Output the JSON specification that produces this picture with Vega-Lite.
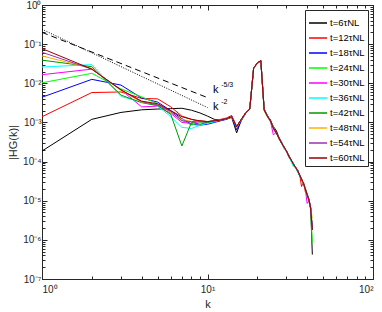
{
"$schema":"https://vega.github.io/schema/vega-lite/v6.json",
"width":331,"height":274,
"autosize":{"type":"none"},
"padding":{"left":42,"top":5,"right":9,"bottom":33},
"config":{"font":"Liberation Sans","view":{"stroke":"#262626","strokeWidth":1},
 "axis":{"grid":false,"domainColor":"#262626","tickColor":"#262626","labelColor":"#262626","titleColor":"#262626","labelFontSize":10,"titleFontSize":11,"titleFontWeight":"normal","labelOverlap":false}},
"resolve":{"axis":{"x":"independent","y":"independent"}},
"layer":[
{"data":{"values":[
{"t":"t=6τNL","k":1,"v":1.86e-4},{"t":"t=6τNL","k":2,"v":1.2e-3},{"t":"t=6τNL","k":3,"v":1.8e-3},{"t":"t=6τNL","k":4,"v":2.1e-3},{"t":"t=6τNL","k":5,"v":2.2e-3},{"t":"t=6τNL","k":6,"v":2.25e-3},{"t":"t=6τNL","k":7,"v":2.3e-3},{"t":"t=6τNL","k":8,"v":2.05e-3},{"t":"t=6τNL","k":9,"v":1.75e-3},{"t":"t=6τNL","k":10,"v":1.45e-3},{"t":"t=6τNL","k":11,"v":1.2e-3},{"t":"t=6τNL","k":12,"v":1.15e-3},{"t":"t=6τNL","k":13,"v":1.2e-3},{"t":"t=6τNL","k":14,"v":1.35e-3},{"t":"t=6τNL","k":15,"v":5.4e-4},{"t":"t=6τNL","k":16,"v":1.15e-3},{"t":"t=6τNL","k":17,"v":1.7e-3},{"t":"t=6τNL","k":18,"v":2.15e-3},{"t":"t=6τNL","k":19,"v":2.4e-2},{"t":"t=6τNL","k":20,"v":3.2e-2},{"t":"t=6τNL","k":21,"v":3.7e-2},{"t":"t=6τNL","k":22,"v":2.2e-3},{"t":"t=6τNL","k":23,"v":1.5e-3},{"t":"t=6τNL","k":24,"v":1.15e-3},{"t":"t=6τNL","k":25,"v":7.8e-4},{"t":"t=6τNL","k":26,"v":6.3e-4},{"t":"t=6τNL","k":27,"v":4.2e-4},{"t":"t=6τNL","k":28,"v":3.2e-4},{"t":"t=6τNL","k":29,"v":2.3e-4},{"t":"t=6τNL","k":30,"v":1.8e-4},{"t":"t=6τNL","k":31,"v":1.45e-4},{"t":"t=6τNL","k":32,"v":1.05e-4},{"t":"t=6τNL","k":33,"v":9.2e-5},{"t":"t=6τNL","k":34,"v":7.0e-5},{"t":"t=6τNL","k":35,"v":5.6e-5},{"t":"t=6τNL","k":36,"v":4.4e-5},{"t":"t=6τNL","k":37,"v":3.7e-5},{"t":"t=6τNL","k":38,"v":2.6e-5},{"t":"t=6τNL","k":39,"v":2.0e-5},{"t":"t=6τNL","k":40,"v":1.5e-5},{"t":"t=6τNL","k":41,"v":1.1e-5},{"t":"t=6τNL","k":42,"v":6.8e-6},{"t":"t=6τNL","k":43,"v":4.2e-7},
{"t":"t=12τNL","k":1,"v":1.4e-3},{"t":"t=12τNL","k":2,"v":5.8e-3},{"t":"t=12τNL","k":3,"v":6.0e-3},{"t":"t=12τNL","k":4,"v":4.1e-3},{"t":"t=12τNL","k":5,"v":4.0e-3},{"t":"t=12τNL","k":6,"v":2.5e-3},{"t":"t=12τNL","k":7,"v":1.45e-3},{"t":"t=12τNL","k":8,"v":1.2e-3},{"t":"t=12τNL","k":9,"v":1.05e-3},{"t":"t=12τNL","k":10,"v":1.0e-3},{"t":"t=12τNL","k":11,"v":1.15e-3},{"t":"t=12τNL","k":12,"v":1.2e-3},{"t":"t=12τNL","k":13,"v":1.3e-3},{"t":"t=12τNL","k":14,"v":1.5e-3},{"t":"t=12τNL","k":15,"v":8.0e-4},{"t":"t=12τNL","k":16,"v":1.2e-3},{"t":"t=12τNL","k":17,"v":1.8e-3},{"t":"t=12τNL","k":18,"v":2.2e-3},{"t":"t=12τNL","k":19,"v":2.45e-2},{"t":"t=12τNL","k":20,"v":3.3e-2},{"t":"t=12τNL","k":21,"v":3.8e-2},{"t":"t=12τNL","k":22,"v":2.0e-3},{"t":"t=12τNL","k":23,"v":1.4e-3},{"t":"t=12τNL","k":24,"v":1.05e-3},{"t":"t=12τNL","k":25,"v":7.0e-4},{"t":"t=12τNL","k":26,"v":5.2e-4},{"t":"t=12τNL","k":27,"v":4.1e-4},{"t":"t=12τNL","k":28,"v":2.9e-4},{"t":"t=12τNL","k":29,"v":2.4e-4},{"t":"t=12τNL","k":30,"v":1.8e-4},{"t":"t=12τNL","k":31,"v":1.35e-4},{"t":"t=12τNL","k":32,"v":1.15e-4},{"t":"t=12τNL","k":33,"v":8.5e-5},{"t":"t=12τNL","k":34,"v":7.4e-5},{"t":"t=12τNL","k":35,"v":5.5e-5},{"t":"t=12τNL","k":36,"v":4.8e-5},{"t":"t=12τNL","k":37,"v":2.3e-5},{"t":"t=12τNL","k":38,"v":3.0e-5},{"t":"t=12τNL","k":39,"v":1.7e-5},{"t":"t=12τNL","k":40,"v":1.5e-5},{"t":"t=12τNL","k":41,"v":1.0e-5},{"t":"t=12τNL","k":42,"v":6.0e-6},{"t":"t=12τNL","k":43,"v":1.8e-6},
{"t":"t=18τNL","k":1,"v":4.4e-3},{"t":"t=18τNL","k":2,"v":1.26e-2},{"t":"t=18τNL","k":3,"v":9.0e-3},{"t":"t=18τNL","k":4,"v":4.2e-3},{"t":"t=18τNL","k":5,"v":3.3e-3},{"t":"t=18τNL","k":6,"v":2.0e-3},{"t":"t=18τNL","k":7,"v":1.25e-3},{"t":"t=18τNL","k":8,"v":9.0e-4},{"t":"t=18τNL","k":9,"v":8.5e-4},{"t":"t=18τNL","k":10,"v":9.0e-4},{"t":"t=18τNL","k":11,"v":1.0e-3},{"t":"t=18τNL","k":12,"v":1.1e-3},{"t":"t=18τNL","k":13,"v":1.2e-3},{"t":"t=18τNL","k":14,"v":1.45e-3},{"t":"t=18τNL","k":15,"v":6.5e-4},{"t":"t=18τNL","k":16,"v":1.1e-3},{"t":"t=18τNL","k":17,"v":1.7e-3},{"t":"t=18τNL","k":18,"v":2.2e-3},{"t":"t=18τNL","k":19,"v":2.45e-2},{"t":"t=18τNL","k":20,"v":3.3e-2},{"t":"t=18τNL","k":21,"v":3.8e-2},{"t":"t=18τNL","k":22,"v":2.1e-3},{"t":"t=18τNL","k":23,"v":1.45e-3},{"t":"t=18τNL","k":24,"v":1.15e-3},{"t":"t=18τNL","k":25,"v":7.2e-4},{"t":"t=18τNL","k":26,"v":5.8e-4},{"t":"t=18τNL","k":27,"v":3.8e-4},{"t":"t=18τNL","k":28,"v":3.0e-4},{"t":"t=18τNL","k":29,"v":2.2e-4},{"t":"t=18τNL","k":30,"v":1.9e-4},{"t":"t=18τNL","k":31,"v":1.3e-4},{"t":"t=18τNL","k":32,"v":1.1e-4},{"t":"t=18τNL","k":33,"v":8.0e-5},{"t":"t=18τNL","k":34,"v":7.0e-5},{"t":"t=18τNL","k":35,"v":6.2e-5},{"t":"t=18τNL","k":36,"v":4.3e-5},{"t":"t=18τNL","k":37,"v":3.6e-5},{"t":"t=18τNL","k":38,"v":2.7e-5},{"t":"t=18τNL","k":39,"v":2.1e-5},{"t":"t=18τNL","k":40,"v":1.35e-5},{"t":"t=18τNL","k":41,"v":1.1e-5},{"t":"t=18τNL","k":42,"v":6.3e-6},{"t":"t=18τNL","k":43,"v":2.0e-6},
{"t":"t=24τNL","k":1,"v":1.03e-2},{"t":"t=24τNL","k":2,"v":1.8e-2},{"t":"t=24τNL","k":3,"v":7.2e-3},{"t":"t=24τNL","k":4,"v":4.5e-3},{"t":"t=24τNL","k":5,"v":3.0e-3},{"t":"t=24τNL","k":6,"v":1.8e-3},{"t":"t=24τNL","k":7,"v":1.15e-3},{"t":"t=24τNL","k":8,"v":8.5e-4},{"t":"t=24τNL","k":9,"v":1.0e-3},{"t":"t=24τNL","k":10,"v":1.05e-3},{"t":"t=24τNL","k":11,"v":1.1e-3},{"t":"t=24τNL","k":12,"v":1.15e-3},{"t":"t=24τNL","k":13,"v":1.25e-3},{"t":"t=24τNL","k":14,"v":1.4e-3},{"t":"t=24τNL","k":15,"v":7.6e-4},{"t":"t=24τNL","k":16,"v":1.2e-3},{"t":"t=24τNL","k":17,"v":1.75e-3},{"t":"t=24τNL","k":18,"v":2.2e-3},{"t":"t=24τNL","k":19,"v":2.45e-2},{"t":"t=24τNL","k":20,"v":3.3e-2},{"t":"t=24τNL","k":21,"v":3.8e-2},{"t":"t=24τNL","k":22,"v":2.05e-3},{"t":"t=24τNL","k":23,"v":1.4e-3},{"t":"t=24τNL","k":24,"v":1.1e-3},{"t":"t=24τNL","k":25,"v":7.4e-4},{"t":"t=24τNL","k":26,"v":5.5e-4},{"t":"t=24τNL","k":27,"v":4.0e-4},{"t":"t=24τNL","k":28,"v":3.1e-4},{"t":"t=24τNL","k":29,"v":2.2e-4},{"t":"t=24τNL","k":30,"v":1.8e-4},{"t":"t=24τNL","k":31,"v":1.4e-4},{"t":"t=24τNL","k":32,"v":1.05e-4},{"t":"t=24τNL","k":33,"v":9.0e-5},{"t":"t=24τNL","k":34,"v":6.8e-5},{"t":"t=24τNL","k":35,"v":6.0e-5},{"t":"t=24τNL","k":36,"v":4.4e-5},{"t":"t=24τNL","k":37,"v":3.4e-5},{"t":"t=24τNL","k":38,"v":2.9e-5},{"t":"t=24τNL","k":39,"v":1.9e-5},{"t":"t=24τNL","k":40,"v":1.45e-5},{"t":"t=24τNL","k":41,"v":1.05e-5},{"t":"t=24τNL","k":42,"v":6.6e-6},{"t":"t=24τNL","k":43,"v":8.5e-7},
{"t":"t=30τNL","k":1,"v":1.66e-2},{"t":"t=30τNL","k":2,"v":2.3e-2},{"t":"t=30τNL","k":3,"v":6.8e-3},{"t":"t=30τNL","k":4,"v":2.5e-3},{"t":"t=30τNL","k":5,"v":2.6e-3},{"t":"t=30τNL","k":6,"v":1.7e-3},{"t":"t=30τNL","k":7,"v":1.0e-3},{"t":"t=30τNL","k":8,"v":9.5e-4},{"t":"t=30τNL","k":9,"v":1.05e-3},{"t":"t=30τNL","k":10,"v":1.0e-3},{"t":"t=30τNL","k":11,"v":1.1e-3},{"t":"t=30τNL","k":12,"v":1.15e-3},{"t":"t=30τNL","k":13,"v":1.25e-3},{"t":"t=30τNL","k":14,"v":1.35e-3},{"t":"t=30τNL","k":15,"v":7.8e-4},{"t":"t=30τNL","k":16,"v":1.2e-3},{"t":"t=30τNL","k":17,"v":1.75e-3},{"t":"t=30τNL","k":18,"v":2.2e-3},{"t":"t=30τNL","k":19,"v":2.45e-2},{"t":"t=30τNL","k":20,"v":3.3e-2},{"t":"t=30τNL","k":21,"v":3.8e-2},{"t":"t=30τNL","k":22,"v":2.1e-3},{"t":"t=30τNL","k":23,"v":1.5e-3},{"t":"t=30τNL","k":24,"v":1.1e-3},{"t":"t=30τNL","k":25,"v":4.8e-4},{"t":"t=30τNL","k":26,"v":5.6e-4},{"t":"t=30τNL","k":27,"v":4.0e-4},{"t":"t=30τNL","k":28,"v":3.0e-4},{"t":"t=30τNL","k":29,"v":2.4e-4},{"t":"t=30τNL","k":30,"v":1.8e-4},{"t":"t=30τNL","k":31,"v":1.4e-4},{"t":"t=30τNL","k":32,"v":1.1e-4},{"t":"t=30τNL","k":33,"v":8.5e-5},{"t":"t=30τNL","k":34,"v":7.2e-5},{"t":"t=30τNL","k":35,"v":6.0e-5},{"t":"t=30τNL","k":36,"v":4.6e-5},{"t":"t=30τNL","k":37,"v":3.4e-5},{"t":"t=30τNL","k":38,"v":2.8e-5},{"t":"t=30τNL","k":39,"v":2.0e-5},{"t":"t=30τNL","k":40,"v":8.5e-6},{"t":"t=30τNL","k":41,"v":1.0e-5},{"t":"t=30τNL","k":42,"v":6.3e-6},{"t":"t=30τNL","k":43,"v":1.8e-6},
{"t":"t=36τNL","k":1,"v":2.6e-2},{"t":"t=36τNL","k":2,"v":3.0e-2},{"t":"t=36τNL","k":3,"v":4.6e-3},{"t":"t=36τNL","k":4,"v":3.3e-3},{"t":"t=36τNL","k":5,"v":2.6e-3},{"t":"t=36τNL","k":6,"v":1.4e-3},{"t":"t=36τNL","k":7,"v":7.5e-4},{"t":"t=36τNL","k":8,"v":7.0e-4},{"t":"t=36τNL","k":9,"v":8.5e-4},{"t":"t=36τNL","k":10,"v":9.5e-4},{"t":"t=36τNL","k":11,"v":1.05e-3},{"t":"t=36τNL","k":12,"v":1.15e-3},{"t":"t=36τNL","k":13,"v":1.25e-3},{"t":"t=36τNL","k":14,"v":1.4e-3},{"t":"t=36τNL","k":15,"v":7.6e-4},{"t":"t=36τNL","k":16,"v":1.15e-3},{"t":"t=36τNL","k":17,"v":1.75e-3},{"t":"t=36τNL","k":18,"v":2.2e-3},{"t":"t=36τNL","k":19,"v":2.45e-2},{"t":"t=36τNL","k":20,"v":3.3e-2},{"t":"t=36τNL","k":21,"v":3.8e-2},{"t":"t=36τNL","k":22,"v":2.1e-3},{"t":"t=36τNL","k":23,"v":1.45e-3},{"t":"t=36τNL","k":24,"v":1.05e-3},{"t":"t=36τNL","k":25,"v":7.2e-4},{"t":"t=36τNL","k":26,"v":5.4e-4},{"t":"t=36τNL","k":27,"v":4.0e-4},{"t":"t=36τNL","k":28,"v":3.0e-4},{"t":"t=36τNL","k":29,"v":2.35e-4},{"t":"t=36τNL","k":30,"v":1.8e-4},{"t":"t=36τNL","k":31,"v":1.38e-4},{"t":"t=36τNL","k":32,"v":1.0e-4},{"t":"t=36τNL","k":33,"v":7.5e-5},{"t":"t=36τNL","k":34,"v":7.2e-5},{"t":"t=36τNL","k":35,"v":5.5e-5},{"t":"t=36τNL","k":36,"v":4.6e-5},{"t":"t=36τNL","k":37,"v":3.5e-5},{"t":"t=36τNL","k":38,"v":2.5e-5},{"t":"t=36τNL","k":39,"v":2.2e-5},{"t":"t=36τNL","k":40,"v":1.3e-5},{"t":"t=36τNL","k":41,"v":1.05e-5},{"t":"t=36τNL","k":42,"v":6.5e-6},{"t":"t=36τNL","k":43,"v":1.8e-6},
{"t":"t=42τNL","k":1,"v":3.9e-2},{"t":"t=42τNL","k":2,"v":2.65e-2},{"t":"t=42τNL","k":3,"v":5.0e-3},{"t":"t=42τNL","k":4,"v":3.2e-3},{"t":"t=42τNL","k":5,"v":2.7e-3},{"t":"t=42τNL","k":6,"v":1.6e-3},{"t":"t=42τNL","k":7,"v":2.5e-4},{"t":"t=42τNL","k":8,"v":1.0e-3},{"t":"t=42τNL","k":9,"v":9.0e-4},{"t":"t=42τNL","k":10,"v":1.0e-3},{"t":"t=42τNL","k":11,"v":1.1e-3},{"t":"t=42τNL","k":12,"v":1.15e-3},{"t":"t=42τNL","k":13,"v":1.25e-3},{"t":"t=42τNL","k":14,"v":1.4e-3},{"t":"t=42τNL","k":15,"v":7.8e-4},{"t":"t=42τNL","k":16,"v":1.2e-3},{"t":"t=42τNL","k":17,"v":1.75e-3},{"t":"t=42τNL","k":18,"v":2.2e-3},{"t":"t=42τNL","k":19,"v":2.45e-2},{"t":"t=42τNL","k":20,"v":3.3e-2},{"t":"t=42τNL","k":21,"v":3.8e-2},{"t":"t=42τNL","k":22,"v":2.2e-3},{"t":"t=42τNL","k":23,"v":1.45e-3},{"t":"t=42τNL","k":24,"v":1.1e-3},{"t":"t=42τNL","k":25,"v":7.2e-4},{"t":"t=42τNL","k":26,"v":5.4e-4},{"t":"t=42τNL","k":27,"v":4.2e-4},{"t":"t=42τNL","k":28,"v":3.0e-4},{"t":"t=42τNL","k":29,"v":2.35e-4},{"t":"t=42τNL","k":30,"v":1.9e-4},{"t":"t=42τNL","k":31,"v":1.4e-4},{"t":"t=42τNL","k":32,"v":1.1e-4},{"t":"t=42τNL","k":33,"v":8.7e-5},{"t":"t=42τNL","k":34,"v":7.2e-5},{"t":"t=42τNL","k":35,"v":6.0e-5},{"t":"t=42τNL","k":36,"v":4.6e-5},{"t":"t=42τNL","k":37,"v":3.5e-5},{"t":"t=42τNL","k":38,"v":2.8e-5},{"t":"t=42τNL","k":39,"v":2.0e-5},{"t":"t=42τNL","k":40,"v":1.4e-5},{"t":"t=42τNL","k":41,"v":1.05e-5},{"t":"t=42τNL","k":42,"v":6.5e-6},{"t":"t=42τNL","k":43,"v":1.8e-6},
{"t":"t=48τNL","k":1,"v":5.0e-2},{"t":"t=48τNL","k":2,"v":2.4e-2},{"t":"t=48τNL","k":3,"v":6.5e-3},{"t":"t=48τNL","k":4,"v":3.3e-3},{"t":"t=48τNL","k":5,"v":2.9e-3},{"t":"t=48τNL","k":6,"v":1.8e-3},{"t":"t=48τNL","k":7,"v":1.2e-3},{"t":"t=48τNL","k":8,"v":1.05e-3},{"t":"t=48τNL","k":9,"v":1.1e-3},{"t":"t=48τNL","k":10,"v":1.05e-3},{"t":"t=48τNL","k":11,"v":1.1e-3},{"t":"t=48τNL","k":12,"v":1.15e-3},{"t":"t=48τNL","k":13,"v":1.25e-3},{"t":"t=48τNL","k":14,"v":1.4e-3},{"t":"t=48τNL","k":15,"v":7.8e-4},{"t":"t=48τNL","k":16,"v":1.2e-3},{"t":"t=48τNL","k":17,"v":1.75e-3},{"t":"t=48τNL","k":18,"v":2.2e-3},{"t":"t=48τNL","k":19,"v":2.45e-2},{"t":"t=48τNL","k":20,"v":3.3e-2},{"t":"t=48τNL","k":21,"v":3.8e-2},{"t":"t=48τNL","k":22,"v":2.1e-3},{"t":"t=48τNL","k":23,"v":1.45e-3},{"t":"t=48τNL","k":24,"v":1.1e-3},{"t":"t=48τNL","k":25,"v":7.2e-4},{"t":"t=48τNL","k":26,"v":5.4e-4},{"t":"t=48τNL","k":27,"v":4.0e-4},{"t":"t=48τNL","k":28,"v":3.0e-4},{"t":"t=48τNL","k":29,"v":2.35e-4},{"t":"t=48τNL","k":30,"v":1.86e-4},{"t":"t=48τNL","k":31,"v":1.38e-4},{"t":"t=48τNL","k":32,"v":1.1e-4},{"t":"t=48τNL","k":33,"v":8.7e-5},{"t":"t=48τNL","k":34,"v":7.2e-5},{"t":"t=48τNL","k":35,"v":6.0e-5},{"t":"t=48τNL","k":36,"v":4.6e-5},{"t":"t=48τNL","k":37,"v":3.5e-5},{"t":"t=48τNL","k":38,"v":2.8e-5},{"t":"t=48τNL","k":39,"v":2.0e-5},{"t":"t=48τNL","k":40,"v":1.4e-5},{"t":"t=48τNL","k":41,"v":1.05e-5},{"t":"t=48τNL","k":42,"v":6.5e-6},{"t":"t=48τNL","k":43,"v":3.5e-6},
{"t":"t=54τNL","k":1,"v":6.2e-2},{"t":"t=54τNL","k":2,"v":2.3e-2},{"t":"t=54τNL","k":3,"v":6.8e-3},{"t":"t=54τNL","k":4,"v":3.4e-3},{"t":"t=54τNL","k":5,"v":2.8e-3},{"t":"t=54τNL","k":6,"v":1.9e-3},{"t":"t=54τNL","k":7,"v":1.1e-3},{"t":"t=54τNL","k":8,"v":1.05e-3},{"t":"t=54τNL","k":9,"v":1.1e-3},{"t":"t=54τNL","k":10,"v":1.05e-3},{"t":"t=54τNL","k":11,"v":1.1e-3},{"t":"t=54τNL","k":12,"v":1.15e-3},{"t":"t=54τNL","k":13,"v":1.25e-3},{"t":"t=54τNL","k":14,"v":1.4e-3},{"t":"t=54τNL","k":15,"v":7.8e-4},{"t":"t=54τNL","k":16,"v":1.2e-3},{"t":"t=54τNL","k":17,"v":1.75e-3},{"t":"t=54τNL","k":18,"v":2.2e-3},{"t":"t=54τNL","k":19,"v":2.45e-2},{"t":"t=54τNL","k":20,"v":3.3e-2},{"t":"t=54τNL","k":21,"v":3.8e-2},{"t":"t=54τNL","k":22,"v":2.1e-3},{"t":"t=54τNL","k":23,"v":1.45e-3},{"t":"t=54τNL","k":24,"v":1.1e-3},{"t":"t=54τNL","k":25,"v":7.2e-4},{"t":"t=54τNL","k":26,"v":5.4e-4},{"t":"t=54τNL","k":27,"v":4.0e-4},{"t":"t=54τNL","k":28,"v":3.0e-4},{"t":"t=54τNL","k":29,"v":2.35e-4},{"t":"t=54τNL","k":30,"v":1.86e-4},{"t":"t=54τNL","k":31,"v":1.38e-4},{"t":"t=54τNL","k":32,"v":1.1e-4},{"t":"t=54τNL","k":33,"v":8.7e-5},{"t":"t=54τNL","k":34,"v":7.2e-5},{"t":"t=54τNL","k":35,"v":6.0e-5},{"t":"t=54τNL","k":36,"v":4.6e-5},{"t":"t=54τNL","k":37,"v":3.5e-5},{"t":"t=54τNL","k":38,"v":2.8e-5},{"t":"t=54τNL","k":39,"v":2.0e-5},{"t":"t=54τNL","k":40,"v":1.4e-5},{"t":"t=54τNL","k":41,"v":1.05e-5},{"t":"t=54τNL","k":42,"v":6.5e-6},{"t":"t=54τNL","k":43,"v":1.8e-6},
{"t":"t=60τNL","k":1,"v":7.7e-2},{"t":"t=60τNL","k":2,"v":2.3e-2},{"t":"t=60τNL","k":3,"v":6.8e-3},{"t":"t=60τNL","k":4,"v":3.5e-3},{"t":"t=60τNL","k":5,"v":3.0e-3},{"t":"t=60τNL","k":6,"v":2.0e-3},{"t":"t=60τNL","k":7,"v":1.4e-3},{"t":"t=60τNL","k":8,"v":1.2e-3},{"t":"t=60τNL","k":9,"v":1.1e-3},{"t":"t=60τNL","k":10,"v":1.05e-3},{"t":"t=60τNL","k":11,"v":1.1e-3},{"t":"t=60τNL","k":12,"v":1.15e-3},{"t":"t=60τNL","k":13,"v":1.25e-3},{"t":"t=60τNL","k":14,"v":1.4e-3},{"t":"t=60τNL","k":15,"v":7.8e-4},{"t":"t=60τNL","k":16,"v":1.2e-3},{"t":"t=60τNL","k":17,"v":1.75e-3},{"t":"t=60τNL","k":18,"v":2.2e-3},{"t":"t=60τNL","k":19,"v":2.45e-2},{"t":"t=60τNL","k":20,"v":3.3e-2},{"t":"t=60τNL","k":21,"v":3.8e-2},{"t":"t=60τNL","k":22,"v":2.1e-3},{"t":"t=60τNL","k":23,"v":1.45e-3},{"t":"t=60τNL","k":24,"v":1.1e-3},{"t":"t=60τNL","k":25,"v":7.2e-4},{"t":"t=60τNL","k":26,"v":5.4e-4},{"t":"t=60τNL","k":27,"v":4.0e-4},{"t":"t=60τNL","k":28,"v":3.0e-4},{"t":"t=60τNL","k":29,"v":2.35e-4},{"t":"t=60τNL","k":30,"v":1.86e-4},{"t":"t=60τNL","k":31,"v":1.38e-4},{"t":"t=60τNL","k":32,"v":1.1e-4},{"t":"t=60τNL","k":33,"v":8.7e-5},{"t":"t=60τNL","k":34,"v":7.2e-5},{"t":"t=60τNL","k":35,"v":6.0e-5},{"t":"t=60τNL","k":36,"v":4.6e-5},{"t":"t=60τNL","k":37,"v":3.5e-5},{"t":"t=60τNL","k":38,"v":2.8e-5},{"t":"t=60τNL","k":39,"v":2.0e-5},{"t":"t=60τNL","k":40,"v":1.4e-5},{"t":"t=60τNL","k":41,"v":1.05e-5},{"t":"t=60τNL","k":42,"v":6.5e-6},{"t":"t=60τNL","k":43,"v":1.8e-6}
]},
"mark":{"type":"line","strokeWidth":1},
"encoding":{
 "x":{"field":"k","type":"quantitative","scale":{"type":"log","domain":[1,100]},
  "axis":{"orient":"bottom","title":"k","titlePadding":2,"values":[1,2,3,4,5,6,7,8,9,10,20,30,40,50,60,70,80,90,100],
   "tickSize":{"condition":{"test":"abs(log(datum.value)/LN10 - round(log(datum.value)/LN10)) < 0.001","value":-5},"value":-3},
   "labelPadding":10,
   "labelExpr":"abs(log(datum.value)/LN10 - round(log(datum.value)/LN10)) > 0.001 ? '' : (datum.value < 2 ? '10⁰' : datum.value < 20 ? '10¹' : '10²')"}},
 "y":{"field":"v","type":"quantitative","scale":{"type":"log","domain":[1e-7,1]},
  "axis":{"orient":"left","title":"|HG(k)|","titlePadding":4,
   "values":[1e-7,2e-7,3e-7,4e-7,5e-7,6e-7,7e-7,8e-7,9e-7,1e-6,2e-6,3e-6,4e-6,5e-6,6e-6,7e-6,8e-6,9e-6,1e-5,2e-5,3e-5,4e-5,5e-5,6e-5,7e-5,8e-5,9e-5,1e-4,2e-4,3e-4,4e-4,5e-4,6e-4,7e-4,8e-4,9e-4,1e-3,2e-3,3e-3,4e-3,5e-3,6e-3,7e-3,8e-3,9e-3,0.01,0.02,0.03,0.04,0.05,0.06,0.07,0.08,0.09,0.1,0.2,0.3,0.4,0.5,0.6,0.7,0.8,0.9,1],
   "tickSize":{"condition":{"test":"abs(log(datum.value)/LN10 - round(log(datum.value)/LN10)) < 0.001","value":-5},"value":-3},
   "labelPadding":6,
   "labelExpr":"abs(log(datum.value)/LN10 - round(log(datum.value)/LN10)) > 0.001 ? '' : ['10⁰','10⁻¹','10⁻²','10⁻³','10⁻⁴','10⁻⁵','10⁻⁶','10⁻⁷'][-round(log(datum.value)/LN10)]"}},
 "color":{"field":"t","type":"nominal",
  "scale":{"domain":["t=6τNL","t=12τNL","t=18τNL","t=24τNL","t=30τNL","t=36τNL","t=42τNL","t=48τNL","t=54τNL","t=60τNL"],
   "range":["#000000","#ff0000","#0000ff","#00ff00","#ff00ff","#00ffff","#009900","#ffb000","#9933aa","#990000"]},
  "legend":{"orient":"top-right","offset":5,"title":null,"strokeColor":"#262626","fillColor":"white","padding":3,"symbolType":"stroke","symbolSize":324,"symbolStrokeWidth":1.5,"labelFontSize":9.5,"labelOffset":2,"rowPadding":-2.2,"labelColor":"#000000"}},
 "order":{"field":"k","type":"quantitative"}
}},
{"data":{"values":[{"k":1,"v":0.2},{"k":10,"v":0.0043}]},
 "mark":{"type":"line","color":"#000000","strokeWidth":1,"strokeDash":[6,4]},
 "encoding":{"x":{"field":"k","type":"quantitative","axis":{"orient":"top","title":null,"labels":false,"values":[1,2,3,4,5,6,7,8,9,10,20,30,40,50,60,70,80,90,100],
   "tickSize":{"condition":{"test":"abs(log(datum.value)/LN10 - round(log(datum.value)/LN10)) < 0.001","value":-5},"value":-3}}},
  "y":{"field":"v","type":"quantitative","axis":{"orient":"right","title":null,"labels":false,
   "values":[1e-7,2e-7,3e-7,4e-7,5e-7,6e-7,7e-7,8e-7,9e-7,1e-6,2e-6,3e-6,4e-6,5e-6,6e-6,7e-6,8e-6,9e-6,1e-5,2e-5,3e-5,4e-5,5e-5,6e-5,7e-5,8e-5,9e-5,1e-4,2e-4,3e-4,4e-4,5e-4,6e-4,7e-4,8e-4,9e-4,1e-3,2e-3,3e-3,4e-3,5e-3,6e-3,7e-3,8e-3,9e-3,0.01,0.02,0.03,0.04,0.05,0.06,0.07,0.08,0.09,0.1,0.2,0.3,0.4,0.5,0.6,0.7,0.8,0.9,1],
   "tickSize":{"condition":{"test":"abs(log(datum.value)/LN10 - round(log(datum.value)/LN10)) < 0.001","value":-5},"value":-3}}}}},
{"data":{"values":[{"k":1,"v":0.24},{"k":10,"v":0.0024}]},
 "mark":{"type":"line","color":"#000000","strokeWidth":1,"strokeDash":[1,1.5]},
 "encoding":{"x":{"field":"k","type":"quantitative","axis":null},"y":{"field":"v","type":"quantitative","axis":null}}},
{"data":{"values":[{"lab":"k","k":10.8,"v":0.0067},{"lab":"k","k":10.8,"v":0.00247}]},
 "mark":{"type":"text","align":"left","baseline":"middle","fontSize":11,"color":"#000000"},
 "encoding":{"x":{"field":"k","type":"quantitative","axis":null},"y":{"field":"v","type":"quantitative","axis":null},"text":{"field":"lab"}}},
{"data":{"values":[{"lab":"-5/3","k":12.1,"v":0.0091},{"lab":"-2","k":12.1,"v":0.0033}]},
 "mark":{"type":"text","align":"left","baseline":"middle","fontSize":7,"color":"#000000"},
 "encoding":{"x":{"field":"k","type":"quantitative","axis":null},"y":{"field":"v","type":"quantitative","axis":null},"text":{"field":"lab"}}}
]
}
